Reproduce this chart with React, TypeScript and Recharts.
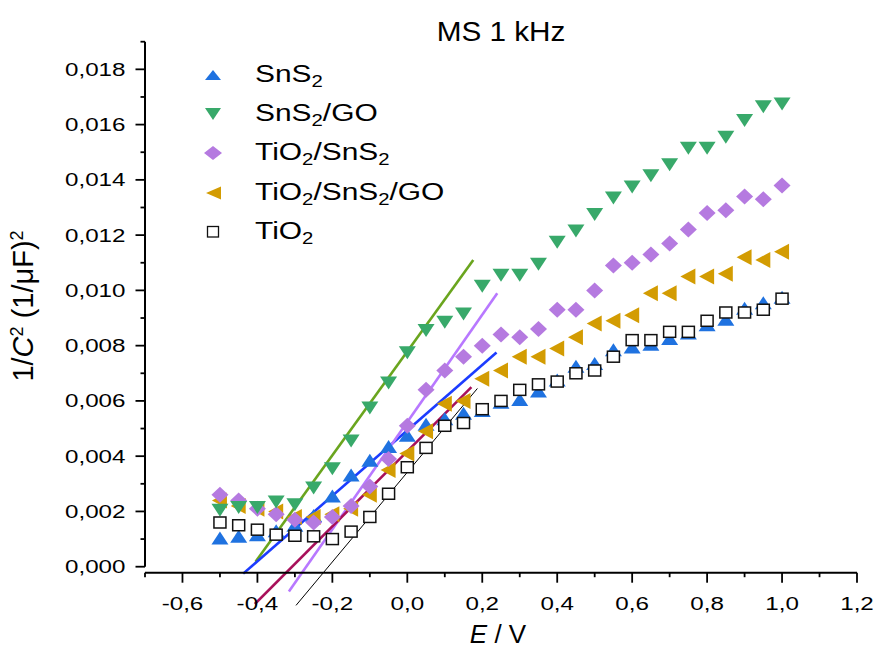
import React from "react";
import { ComposedChart, Scatter, XAxis, YAxis, ReferenceLine } from "recharts";

const FONT = "'Liberation Sans', Arial, Helvetica, sans-serif";

// applied potential E / V
const potential = [
  -0.5, -0.45, -0.4, -0.35, -0.3, -0.25, -0.2, -0.15, -0.1, -0.05, 0.0, 0.05, 0.1, 0.15, 0.2, 0.25,
  0.3, 0.35, 0.4, 0.45, 0.5, 0.55, 0.6, 0.65, 0.7, 0.75, 0.8, 0.85, 0.9, 0.95, 1.0,
];

// 1/C^2 (1/uF)^2
const sns2 = [
  0.00098, 0.00105, 0.0011, 0.00125, 0.00145, 0.0018, 0.0025, 0.00326, 0.0038, 0.0043, 0.0047, 0.0051,
  0.0053, 0.0055, 0.0056, 0.0059, 0.006, 0.0063, 0.0067, 0.0072, 0.0073, 0.0078, 0.0079, 0.008, 0.0082,
  0.0084, 0.0087, 0.0089, 0.0093, 0.0095, 0.0097,
];
const sns2Go = [
  0.0021, 0.0022, 0.0022, 0.0024, 0.0023, 0.0029, 0.0036, 0.0046, 0.0058, 0.0067, 0.0078, 0.0086, 0.0089,
  0.0092, 0.0102, 0.0106, 0.0106, 0.011, 0.0118, 0.0122, 0.0128, 0.0134, 0.0138, 0.0142, 0.0146, 0.0152,
  0.0152, 0.0156, 0.0162, 0.0167, 0.0168,
];
const tio2Sns2 = [
  0.0026, 0.0024, 0.0021, 0.0019, 0.0017, 0.0016, 0.0018, 0.0022, 0.0029, 0.0039, 0.0051, 0.0064, 0.0071,
  0.0076, 0.008, 0.0084, 0.0083, 0.0086, 0.0093, 0.0093, 0.01, 0.0109, 0.011, 0.0113, 0.0117, 0.0122,
  0.0128, 0.0129, 0.0134, 0.0133, 0.0138,
];
const tio2Sns2Go = [
  0.0024, 0.0022, 0.0021, 0.002, 0.0018, 0.0018, 0.0019, 0.0021, 0.0026, 0.0035, 0.0041, 0.0049, 0.0059,
  0.006, 0.0068, 0.0071, 0.0076, 0.0076, 0.0079, 0.0083, 0.0088, 0.0089, 0.0091, 0.0099, 0.0099, 0.0105,
  0.0105, 0.0106, 0.0112, 0.0111, 0.0114,
];
const tio2 = [
  0.0016, 0.0015, 0.00134, 0.00116, 0.00112, 0.0011, 0.001, 0.00127, 0.0018, 0.00264, 0.0036, 0.0043,
  0.0051, 0.0052, 0.0057, 0.006, 0.0064, 0.0066, 0.0067, 0.007, 0.0071, 0.0076, 0.0082, 0.0082, 0.0085,
  0.0085, 0.0089, 0.0092, 0.0092, 0.0093, 0.0097,
];

// linear Mott-Schottky fits: start and end points
const fitNames = ["SnS2/GO", "SnS2", "TiO2/SnS2", "TiO2/SnS2/GO", "TiO2"];
const fitStartE = [-0.405, -0.438, -0.316, -0.407, -0.297];
const fitStartC = [0.00018, -0.00025, -0.0009, -0.00135, -0.0014];
const fitEndE = [0.176, 0.238, 0.24, 0.171, 0.187];
const fitEndC = [0.0111, 0.00775, 0.0099, 0.0065, 0.00645];

const xTicks = [-0.7, -0.6, -0.5, -0.4, -0.3, -0.2, -0.1, 0, 0.1, 0.2, 0.3, 0.4, 0.5, 0.6, 0.7, 0.8, 0.9, 1.0, 1.1, 1.2];
const yTicks = [
  0, 0.001, 0.002, 0.003, 0.004, 0.005, 0.006, 0.007, 0.008, 0.009, 0.01, 0.011, 0.012, 0.013, 0.014,
  0.015, 0.016, 0.017, 0.018, 0.019,
];

const fitColors = ["#6aa51e", "#1c3cff", "#b878ff", "#a8105a", "#000000"];
const fitWidths = [2.6, 2.6, 2.6, 2.6, 1];

const toPoints = (ys: number[]) => potential.map((x, i) => ({ x, y: ys[i] }));

const BLUE = "#1f72e0";
const GREEN = "#38a96a";
const PURPLE = "#b57ae0";
const GOLD = "#d39c02";

const upTri = (p: any) => (
  <polygon points={`${p.cx},${p.cy - 8} ${p.cx + 8.5},${p.cy + 5} ${p.cx - 8.5},${p.cy + 5}`} fill={BLUE} />
);
const downTri = (p: any) => (
  <polygon points={`${p.cx - 8.5},${p.cy - 5} ${p.cx + 8.5},${p.cy - 5} ${p.cx},${p.cy + 8}`} fill={GREEN} />
);
const diamond = (p: any) => (
  <polygon
    points={`${p.cx},${p.cy - 8} ${p.cx + 8.5},${p.cy} ${p.cx},${p.cy + 8} ${p.cx - 8.5},${p.cy}`}
    fill={PURPLE}
  />
);
const leftTri = (p: any) => (
  <polygon points={`${p.cx - 8},${p.cy} ${p.cx + 7},${p.cy - 8} ${p.cx + 7},${p.cy + 8}`} fill={GOLD} />
);
const square = (p: any) => (
  <rect x={p.cx - 6} y={p.cy - 5.5} width={12} height={11} fill="#fff" stroke="#111" strokeWidth={1.5} />
);

const XTick = ({ x, y, payload }: any) => {
  const v = payload.value;
  const major = Math.round(v * 10) % 2 === 0;
  return (
    <g>
      <line x1={x} x2={x} y1={y} y2={y + (major ? 10 : 4.5)} stroke="#000" strokeWidth={1.8} />
      {major && (
        <text
          transform={`translate(${x},${y + 31}) scale(1.3,1)`}
          textAnchor="middle"
          dominantBaseline="central"
          fontSize={18.6}
          fontFamily={FONT}
          fill="#000"
        >
          {v.toFixed(1).replace(".", ",")}
        </text>
      )}
    </g>
  );
};

const YTick = ({ x, y, payload }: any) => {
  const v = payload.value;
  const major = Math.round(v * 1000) % 2 === 0;
  return (
    <g>
      <line x1={x - (major ? 9.5 : 4.5)} x2={x} y1={y} y2={y} stroke="#000" strokeWidth={1.8} />
      {major && (
        <text
          transform={`translate(${x - 19.5},${y}) scale(1.3,1)`}
          textAnchor="end"
          dominantBaseline="central"
          fontSize={18.6}
          fontFamily={FONT}
          fill="#000"
        >
          {v.toFixed(3).replace(".", ",")}
        </text>
      )}
    </g>
  );
};

const Sub = ({ children }: any) => (
  <sub style={{ fontSize: "0.68em", verticalAlign: "-0.32em", lineHeight: 0 }}>{children}</sub>
);
const Sup = ({ children }: any) => (
  <sup style={{ fontSize: "0.62em", verticalAlign: "0.55em", lineHeight: 0 }}>{children}</sup>
);

const legendRows = [
  {
    y: 75,
    marker: <polygon points="0,5 8,-5 16,5" fill={BLUE} transform="translate(1,9)" />,
    label: (
      <>
        SnS<Sub>2</Sub>
      </>
    ),
  },
  {
    y: 114,
    marker: <polygon points="0,-6 16,-6 8,6" fill={GREEN} transform="translate(1,9)" />,
    label: (
      <>
        SnS<Sub>2</Sub>/GO
      </>
    ),
  },
  {
    y: 153,
    marker: <polygon points="0,0 9,-7 18,0 9,7" fill={PURPLE} transform="translate(0,9)" />,
    label: (
      <>
        TiO<Sub>2</Sub>/SnS<Sub>2</Sub>
      </>
    ),
  },
  {
    y: 192.5,
    marker: <polygon points="1,0 16,-6.5 16,6.5" fill={GOLD} transform="translate(1,9)" />,
    label: (
      <>
        TiO<Sub>2</Sub>/SnS<Sub>2</Sub>/GO
      </>
    ),
  },
  {
    y: 231.5,
    marker: <rect x={3.5} y={3.5} width={11} height={10.5} fill="#fff" stroke="#111" strokeWidth={1.3} />,
    label: (
      <>
        TiO<Sub>2</Sub>
      </>
    ),
  },
];

export default function App() {
  return (
    <div style={{ position: "absolute", left: 0, top: 0, width: 875, height: 648, background: "#fff", fontFamily: FONT }}>
      <ComposedChart width={875} height={648} margin={{ top: 41.7, right: 18, bottom: 45.3, left: 85 }}>
        <XAxis
          type="number"
          dataKey="x"
          domain={[-0.7, 1.2]}
          ticks={xTicks}
          interval={0}
          tick={<XTick />}
          tickLine={false}
          tickSize={0}
          tickMargin={0}
          height={30}
          axisLine={{ stroke: "#000", strokeWidth: 2 }}
        />
        <YAxis
          type="number"
          dataKey="y"
          domain={[-0.000217, 0.019]}
          ticks={yTicks}
          interval={0}
          tick={<YTick />}
          tickLine={false}
          tickSize={0}
          tickMargin={0}
          width={60}
          axisLine={false}
        />
        <ReferenceLine
          segment={[
            { x: -0.7, y: 0 },
            { x: -0.7, y: 0.019 },
          ]}
          stroke="#000"
          strokeWidth={2}
          ifOverflow="visible"
        />
        <Scatter name="SnS2" data={toPoints(sns2)} shape={upTri} isAnimationActive={false} />
        <Scatter name="TiO2/SnS2/GO" data={toPoints(tio2Sns2Go)} shape={leftTri} isAnimationActive={false} />
        <Scatter name="TiO2/SnS2" data={toPoints(tio2Sns2)} shape={diamond} isAnimationActive={false} />
        <Scatter name="SnS2/GO" data={toPoints(sns2Go)} shape={downTri} isAnimationActive={false} />
        <Scatter name="TiO2" data={toPoints(tio2)} shape={square} isAnimationActive={false} />
        {fitNames.map((n, i) => (
          <ReferenceLine
            key={n}
            segment={[
              { x: fitStartE[i], y: fitStartC[i] },
              { x: fitEndE[i], y: fitEndC[i] },
            ]}
            stroke={fitColors[i]}
            strokeWidth={fitWidths[i]}
            ifOverflow="visible"
          />
        ))}
      </ComposedChart>

      <div
        style={{
          position: "absolute",
          left: 501,
          top: 32,
          transform: "translate(-50%,-50%) scaleX(1.08)",
          fontSize: 27.5,
          lineHeight: 1,
          whiteSpace: "nowrap",
        }}
      >
        MS 1 kHz
      </div>

      <div
        style={{
          position: "absolute",
          left: 498,
          top: 634,
          transform: "translate(-50%,-50%)",
          fontSize: 26,
          lineHeight: 1,
          whiteSpace: "nowrap",
        }}
      >
        <i>E</i> / V
      </div>

      <div
        style={{
          position: "absolute",
          left: 23,
          top: 306,
          transform: "translate(-50%,-50%) rotate(-90deg)",
          fontSize: 29,
          lineHeight: 1,
          whiteSpace: "nowrap",
        }}
      >
        1/<i>C</i>
        <Sup>2</Sup> (1/μF)<Sup>2</Sup>
      </div>

      {legendRows.map((r, i) => (
        <div key={i}>
          <svg
            width={18}
            height={18}
            style={{ position: "absolute", left: 204, top: r.y - 9, overflow: "visible" }}
          >
            {r.marker}
          </svg>
          <div
            style={{
              position: "absolute",
              left: 255,
              top: r.y - 1,
              transform: "translateY(-50%) scaleX(1.3)",
              transformOrigin: "left center",
              fontSize: 23,
              lineHeight: 1,
              whiteSpace: "nowrap",
            }}
          >
            {r.label}
          </div>
        </div>
      ))}
    </div>
  );
}
